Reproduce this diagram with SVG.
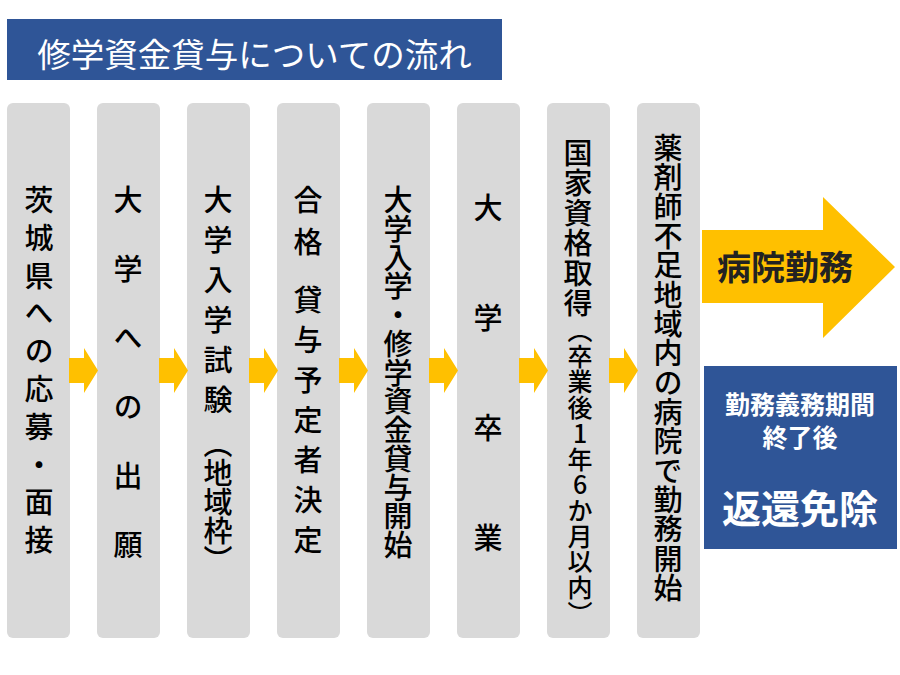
<svg xmlns="http://www.w3.org/2000/svg" width="900" height="675" viewBox="0 0 900 675">
<defs>
<style>
.col{fill:#d9d9d9;}
.arr{fill:#ffc000;}
.v{font-family:"Noto Sans CJK JP","Noto Sans CJK SC",sans-serif;font-size:29px;font-weight:500;fill:#000;writing-mode:vertical-rl;}
.up{text-orientation:upright;}
.title{font-family:"Noto Sans CJK JP",sans-serif;font-size:33.5px;fill:#fff;text-anchor:middle;}
.wb{font-family:"Noto Sans CJK JP",sans-serif;font-weight:bold;fill:#fff;text-anchor:middle;}
</style>
<path id="sa" d="M0,-12.5 H15 V-22.5 L29,0 L15,22.5 V12.5 H0 Z"/>
</defs>
<rect width="900" height="675" fill="#fff"/>
<g id="title">
<rect x="7" y="19" width="495" height="61" fill="#2f5597"/>
<text class="title" x="254.5" y="67">修学資金貸与についての流れ</text>
</g>
<g id="n1"><rect class="col" x="7" y="103" width="63" height="535" rx="6"/>
<text class="v" x="39" y="185.5" style="letter-spacing:8.8px">茨城県への応募・面接</text></g>
<g id="n2"><rect class="col" x="97" y="103" width="63" height="535" rx="6"/>
<text class="v" x="128" y="185.5" style="letter-spacing:40px">大学への出願</text></g>
<g id="n3"><rect class="col" x="187" y="103" width="63" height="535" rx="6"/>
<text class="v" x="218" y="185.5" style="letter-spacing:11px">大学入学試験</text>
<text class="v" x="218" y="429.5">（地域枠）</text></g>
<g id="n4"><rect class="col" x="277" y="103" width="63" height="535" rx="6"/>
<text class="v" x="308" y="185.5" style="letter-spacing:13px">合格</text>
<text class="v" x="308" y="285.5" style="letter-spacing:11px">貸与予定者決定</text></g>
<g id="n5"><rect class="col" x="367" y="103" width="63" height="535" rx="6"/>
<text class="v" x="398" y="185.5" style="letter-spacing:-0.25px">大学入学・修学資金貸与開始</text></g>
<g id="n6"><rect class="col" x="457" y="103" width="63" height="535" rx="6"/>
<text class="v" x="488" y="193.5" style="letter-spacing:81px">大学卒業</text></g>
<g id="n7"><rect class="col" x="547" y="103" width="63" height="535" rx="6"/>
<text class="v" x="578" y="138.5" style="letter-spacing:1px">国家資格取得</text>
<text class="v" x="580" y="318" style="font-size:25px;letter-spacing:0.7px">（卒業後<tspan class="up">1</tspan>年<tspan class="up">6</tspan>か月以内）</text></g>
<g id="n8"><rect class="col" x="637" y="103" width="63" height="535" rx="6"/>
<text class="v" x="668" y="133.5" style="letter-spacing:0.33px">薬剤師不足地域内の病院で勤務開始</text></g>
<g id="connectors">
<use href="#sa" class="arr" x="69" y="370.5"/>
<use href="#sa" class="arr" x="159" y="370.5"/>
<use href="#sa" class="arr" x="249" y="370.5"/>
<use href="#sa" class="arr" x="339" y="370.5"/>
<use href="#sa" class="arr" x="429" y="370.5"/>
<use href="#sa" class="arr" x="519" y="370.5"/>
<use href="#sa" class="arr" x="609" y="370.5"/>
</g>
<g id="hospital">
<polygon class="arr" points="702,230 823,230 823,197 895,267 823,338 823,303 702,303"/>
<text x="785" y="280" style="font-family:'Noto Sans CJK JP',sans-serif;font-weight:bold;font-size:34px;fill:#222;text-anchor:middle;">病院勤務</text>
</g>
<g id="exemption">
<rect x="704" y="366" width="193" height="183" fill="#2f5597"/>
<text class="wb" x="800" y="414" style="font-size:25px">勤務義務期間</text>
<text class="wb" x="800" y="447" style="font-size:25px">終了後</text>
<text class="wb" x="800" y="523" style="font-size:39px">返還免除</text>
</g>
</svg>
